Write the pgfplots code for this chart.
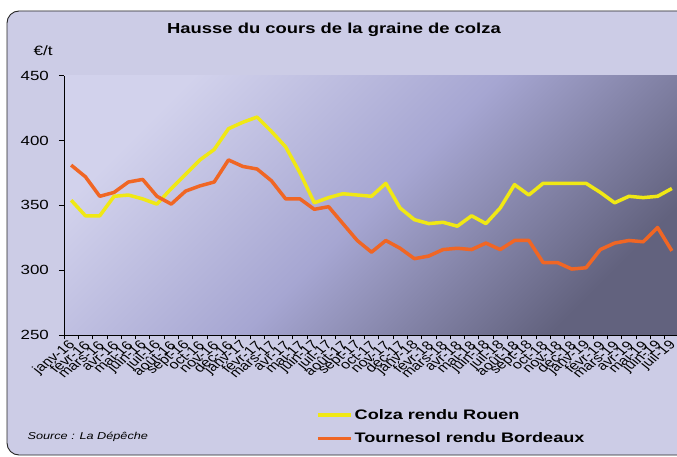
\documentclass[border=0pt]{standalone}
\usepackage{pgfplots}
\pgfplotsset{compat=1.18}
\usepackage{fontspec}
\setmainfont{Liberation Sans}
\definecolor{framebg}{RGB}{204,204,230}
\definecolor{gtop}{RGB}{210,210,236}
\definecolor{gmid}{RGB}{166,166,210}
\definecolor{gbot}{RGB}{98,98,126}
\definecolor{colza}{RGB}{240,232,20}
\definecolor{tourn}{RGB}{240,102,36}

\pgfplotstableread{
i colza tourn
0 354 381
1 342 372
2 342 357
3 357 360
4 358 368
5 355 370
6 351 357
7 363 351
8 374 361
9 385 365
10 393 368
11 409 385
12 414 380
13 418 378
14 407 369
15 395 355
16 375 355
17 352 347
18 356 349
19 359 336
20 358 323
21 357 314
22 367 323
23 348 317
24 339 309
25 336 311
26 337 316
27 334 317
28 342 316
29 336 321
30 348 316
31 366 323
32 358 323
33 367 306
34 367 306
35 367 301
36 367 302
37 360 316
38 352 321
39 357 323
40 356 322
41 357 333
42 363 315
}\datatable

\begin{document}
\begin{tikzpicture}[x=1pt,y=1pt]
\useasboundingbox (0,0) rectangle (677,456);
\fill[white] (0,0) rectangle (677,456);
\draw[fill=framebg, draw=black!85, line width=0.9pt, rounded corners=12pt] (7,1) rectangle (720,445);
\node at (334,426) {\scalebox{1.27}[1]{\fontsize{14.5}{17}\selectfont\bfseries Hausse du cours de la graine de colza}};
\node[anchor=west] at (30,405) {\scalebox{1.27}[1]{\fontsize{13.5}{15}\selectfont €/t}};
\node[anchor=west] at (24,19) {\scalebox{1.27}[1]{\fontsize{10}{12}\selectfont\itshape Source : La Dépêche}};
\begin{axis}[
  name=ax,
  at={(64pt,120.7pt)}, anchor=south west,
  scale only axis, width=615pt, height=259.8pt,
  xmin=-0.5, xmax=42.5, ymin=250, ymax=450,
  axis x line*=bottom, axis y line*=left,
  x axis line style={-}, y axis line style={-},
  axis line style={black, line width=0.8pt},
  axis background/.style={top color=gtop, bottom color=gbot, middle color=gmid, shading angle=45},
  ytick={250,300,...,450},
  /pgf/number format/assume math mode=true,
  yticklabel={\scalebox{1.27}[1]{\pgfmathprintnumber{\tick}}},
  yticklabel style={font=\fontsize{13.3}{15}\selectfont, inner sep=1pt, xshift=-9pt},
  tick align=outside,
  major tick length=5pt,
  minor tick length=4pt,
  tick style={black, line width=0.7pt},
  xtick={0,...,42},
  major x tick style={draw=none},
  minor xtick={-0.5,0.5,...,42.5},
  minor x tick style={black, line width=0.7pt},
  xticklabels={janv-16,févr-16,mars-16,avr-16,mai-16,juin-16,juil-16,août-16,sept-16,oct-16,nov-16,déc-16,
    janv-17,févr-17,mars-17,avr-17,mai-17,juin-17,juil-17,août-17,sept-17,oct-17,nov-17,déc-17,
    janv-18,févr-18,mars-18,avr-18,mai-18,juin-18,juil-18,août-18,sept-18,oct-18,nov-18,déc-18,
    janv-19,févr-19,mars-19,avr-19,mai-19,juin-19,juil-19},
  xticklabel style={xscale=1.27, rotate=45, anchor=east, font=\fontsize{12.5}{14}\selectfont, inner sep=1pt, yshift=-3pt},
  legend style={at={(0.4098,-0.2755)}, anchor=north west, draw=none, fill=none,
    font=\fontsize{13.8}{16}\selectfont\bfseries, row sep=8pt, inner sep=0pt, cells={anchor=west}},
  legend cell align=left,
  legend image code/.code={\draw[#1, line width=3.5pt] (0pt,0pt) -- (33pt,0pt);},
]
\addplot[colza, line width=3.5pt, line join=round] table[x=i, y=colza] {\datatable};
\addlegendentry{\scalebox{1.31}[1]{Colza rendu Rouen}}
\addplot[tourn, line width=3.5pt, line join=round] table[x=i, y=tourn] {\datatable};
\addlegendentry{\scalebox{1.31}[1]{Tournesol rendu Bordeaux}}
\end{axis}
\end{tikzpicture}
\end{document}
